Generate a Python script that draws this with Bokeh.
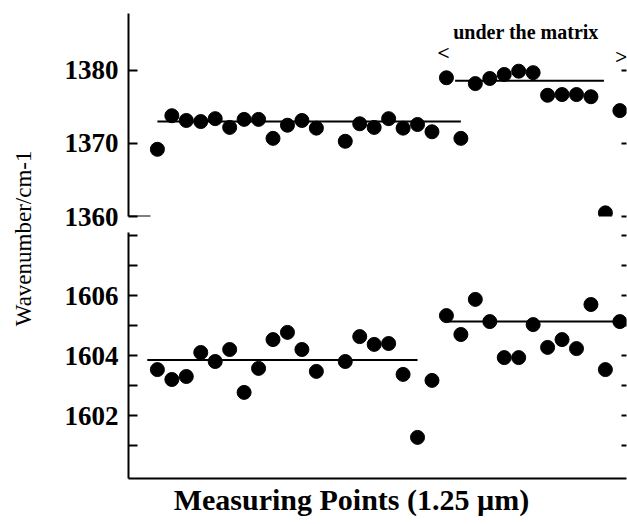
from bokeh.plotting import figure
from bokeh.layouts import row, column
from bokeh.models import LinearAxis, FixedTicker, Label, Range1d
from bokeh.embed import file_html
from bokeh.resources import INLINE

# ---- data (measuring point index, wavenumber in cm-1) ----
top_x = [0, 1, 2, 3, 4, 5, 6, 7, 8, 9, 10, 11, 13, 14, 15, 16, 17, 18, 19,
         20, 21, 22, 23, 24, 25, 26, 27, 28, 29, 30, 31, 32]
top_y = [1369.2, 1373.8, 1373.15, 1373.0, 1373.4, 1372.2, 1373.3, 1373.3,
         1370.7, 1372.5, 1373.15, 1372.1, 1370.3, 1372.7, 1372.2, 1373.4,
         1372.1, 1372.6, 1371.6, 1379.0, 1370.7, 1378.2, 1378.9, 1379.45,
         1379.9, 1379.7, 1376.6, 1376.7, 1376.7, 1376.4, 1360.5, 1374.5]

bottom_x = [0, 1, 2, 3, 4, 5, 6, 7, 8, 9, 10, 11, 13, 14, 15, 16, 17, 18, 19,
            20, 21, 22, 23, 24, 25, 26, 27, 28, 29, 30, 31, 32]
bottom_y = [1603.53, 1603.2, 1603.3, 1604.1, 1603.8, 1604.2, 1602.77, 1603.57,
            1604.53, 1604.77, 1604.2, 1603.47, 1603.8, 1604.63, 1604.37, 1604.4,
            1603.37, 1601.27, 1603.17, 1605.33, 1604.7, 1605.87, 1605.13,
            1603.93, 1603.93, 1605.03, 1604.27, 1604.53, 1604.23, 1605.7,
            1603.53, 1605.13]

# mean levels (segments)
top_mean_x0 = [0.0, 20.6]
top_mean_x1 = [21.0, 30.9]
top_mean_y = [1373.0, 1378.6]
bottom_mean_x0 = [-0.7, 20.0]
bottom_mean_x1 = [18.0, 32.3]
bottom_mean_y = [1603.85, 1605.13]

top_ticks = [1360, 1370, 1380]
bottom_major_ticks = [1602, 1604, 1606]
bottom_minor_ticks = [1601, 1603, 1605, 1607, 1608]

SERIF = "Liberation Serif"
TICK_FS = "27px"

xr = Range1d(-2.0, 32.46)


def no_grid(p):
    p.xgrid.grid_line_color = None
    p.ygrid.grid_line_color = None
    p.outline_line_color = None


def style_left(ax):
    ax.axis_line_width = 2
    ax.axis_line_color = "black"
    ax.major_tick_in = 9
    ax.major_tick_out = 0
    ax.major_tick_line_width = 2
    ax.minor_tick_in = 9
    ax.minor_tick_out = 0
    ax.minor_tick_line_width = 2
    ax.minor_tick_line_color = "black"
    ax.major_label_text_font = SERIF
    ax.major_label_text_font_style = "bold"
    ax.major_label_text_font_size = TICK_FS
    ax.major_label_text_color = "black"
    ax.major_label_standoff = 10


def right_ticks(p, ticks):
    ax = LinearAxis(ticker=FixedTicker(ticks=[], minor_ticks=ticks))
    ax.axis_line_color = None
    ax.major_tick_line_color = None
    ax.minor_tick_in = 5
    ax.minor_tick_out = 0
    ax.minor_tick_line_width = 2
    ax.minor_tick_line_color = "black"
    ax.major_label_standoff = 0
    p.add_layout(ax, "right")


# ---- top panel ----
p_top = figure(width=579, height=232, x_range=xr, y_range=Range1d(1360, 1387.8),
               x_axis_location=None, y_axis_location=None,
               output_backend="svg", toolbar_location=None,
               min_border_left=80, min_border_right=1,
               min_border_top=13, min_border_bottom=16)
no_grid(p_top)

lt = LinearAxis(ticker=FixedTicker(ticks=top_ticks))
style_left(lt)
p_top.add_layout(lt, "left")
right_ticks(p_top, top_ticks)

# short base stub of the upper panel at 1360
p_top.segment(x0=[xr.start], x1=[-0.48], y0=[top_ticks[0]], y1=[top_ticks[0]],
              line_color="black", line_width=2)

p_top.segment(x0=top_mean_x0, x1=top_mean_x1, y0=top_mean_y, y1=top_mean_y,
              line_color="black", line_width=2)
p_top.scatter(top_x, top_y, size=14, color="black")

for txt, x, y, fs in [("under the matrix", 25.5, 1385.3, "20px"),
                      ("<", 19.8, 1382.5, "22px"), (">", 32.1, 1381.9, "22px")]:
    p_top.add_layout(Label(x=x, y=y, text=txt, text_align="center", text_baseline="middle",
                           text_font=SERIF, text_font_style="bold", text_font_size=fs,
                           text_color="black"))

# ---- bottom panel ----
p_bot = figure(width=579, height=250, x_range=xr, y_range=Range1d(1599.9, 1608.1),
               x_axis_location=None, y_axis_location=None,
               output_backend="svg", toolbar_location=None,
               min_border_left=80, min_border_right=1,
               min_border_top=0, min_border_bottom=4)
no_grid(p_bot)

lb = LinearAxis(ticker=FixedTicker(ticks=bottom_major_ticks, minor_ticks=bottom_minor_ticks))
style_left(lb)
p_bot.add_layout(lb, "left")
right_ticks(p_bot, bottom_major_ticks + bottom_minor_ticks)

xb = LinearAxis(ticker=FixedTicker(ticks=[]))
xb.axis_line_width = 2
xb.axis_line_color = "black"
xb.major_tick_line_color = None
xb.minor_tick_line_color = None
xb.major_label_standoff = 0
p_bot.add_layout(xb, "below")

p_bot.segment(x0=bottom_mean_x0, x1=bottom_mean_x1, y0=bottom_mean_y, y1=bottom_mean_y,
              line_color="black", line_width=2)
p_bot.scatter(bottom_x, bottom_y, size=14, color="black")

# ---- x label strip ----
p_xl = figure(width=579, height=42, x_range=xr, y_range=Range1d(0, 1),
              x_axis_location=None, y_axis_location=None,
              output_backend="svg", toolbar_location=None,
              min_border_left=80, min_border_right=1, min_border_top=0, min_border_bottom=0)
no_grid(p_xl)
p_xl.add_layout(Label(x=13.43, y=0.6, text="Measuring Points (1.25 \u00b5m)",
                      text_align="center", text_baseline="alphabetic",
                      text_font=SERIF, text_font_style="bold", text_font_size="30px",
                      text_color="black"))

# ---- y label column ----
p_lab = figure(width=48, height=524, x_range=Range1d(0, 1), y_range=Range1d(0, 1),
               x_axis_location=None, y_axis_location=None,
               output_backend="svg", toolbar_location=None, min_border=0)
no_grid(p_lab)
p_lab.add_layout(Label(x=0.48, y=0.546, text="Wavenumber/cm-1", angle=90, angle_units="deg",
                       text_align="center", text_baseline="middle",
                       text_font=SERIF, text_font_size="23px", text_color="black"))

layout = row(p_lab, column(p_top, p_bot, p_xl))

open("out.html", "w").write(file_html(layout, INLINE))
